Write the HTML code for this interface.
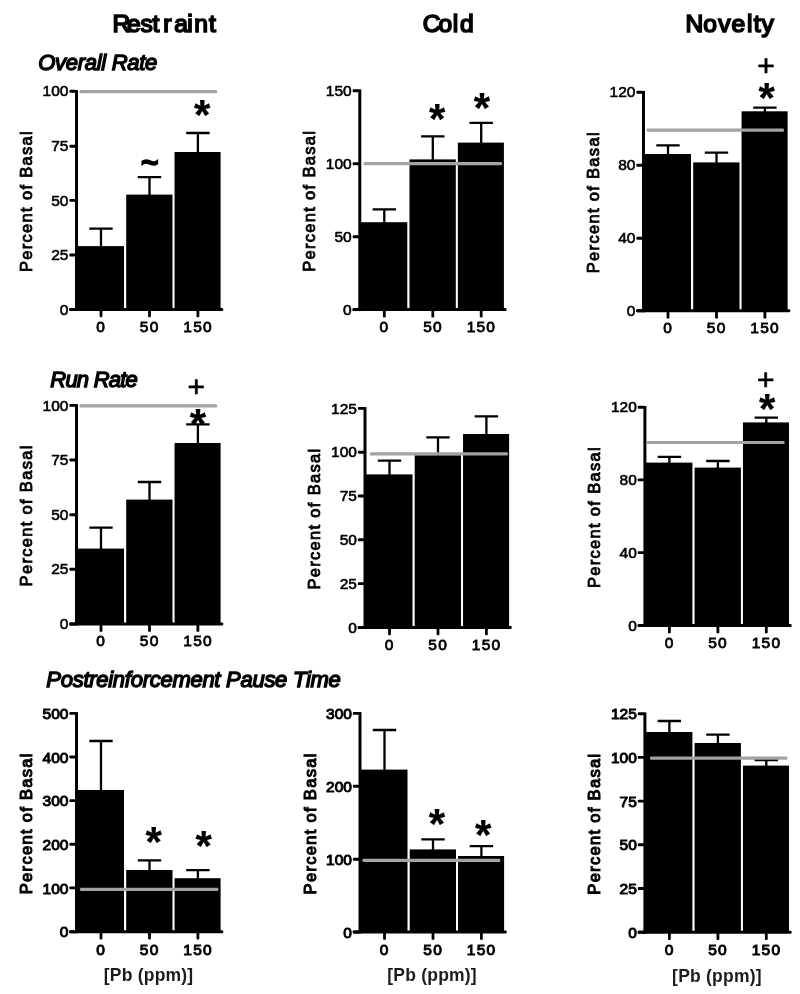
<!DOCTYPE html>
<html lang="en"><head><meta charset="utf-8"><title>Figure</title>
<style>html,body{margin:0;padding:0;background:#fff}body{width:800px;height:994px;overflow:hidden}svg{display:block}text{font-family:'Liberation Sans', sans-serif;fill:#000}</style>
</head><body>
<svg width="800" height="994" viewBox="0 0 800 994">
<rect width="800" height="994" fill="#fff"/>
<text x="112.55 127.05 140.6 152.45 163.15 174.25 187.15 194.3 209" y="32.2" font-size="24.6" stroke="#000" stroke-width="1.7">Restraint</text>
<text x="422.8 438.5 452.8 460.1" y="32.2" font-size="24.6" stroke="#000" stroke-width="1.7">Cold</text>
<text x="685.5 703.3 718.2 731.5 746.9 753.7 761.5" y="32.2" font-size="24.6" stroke="#000" stroke-width="1.7">Novelty</text>
<text x="38.3" y="69.9" font-size="22" font-style="italic" stroke="#000" stroke-width="1.4" textLength="119" lengthAdjust="spacing">Overall Rate</text>
<text x="50.3" y="387.3" font-size="22" font-style="italic" stroke="#000" stroke-width="1.4" textLength="87.5" lengthAdjust="spacing">Run Rate</text>
<text x="46.3" y="687.1" font-size="22" font-style="italic" stroke="#000" stroke-width="1.4" textLength="294.5" lengthAdjust="spacing">Postreinforcement Pause Time</text>
<g>
<rect x="76" y="246.1" width="48" height="63.3"/>
<rect x="126.2" y="194.6" width="46.3" height="114.8"/>
<rect x="174.55" y="152" width="46.05" height="157.4"/>
<path d="M101 247.1V228.7M89.3 228.7H112.7M149.5 195.6V177.2M137.8 177.2H161.2M197.9 153V133M186.2 133H209.6" stroke="#000" stroke-width="2.3" fill="none"/>
<rect x="75" y="90" width="3" height="220.9"/>
<rect x="69.2" y="307.9" width="154" height="3" rx="1"/>
<rect x="69.4" y="89.85" width="6.6" height="2.9" rx="0.9"/>
<text x="68.4" y="96.4" font-size="15.5" text-anchor="end" stroke="#000" stroke-width="0.6">100</text>
<rect x="69.4" y="144.75" width="6.6" height="2.9" rx="0.9"/>
<text x="68.4" y="151.3" font-size="15.5" text-anchor="end" stroke="#000" stroke-width="0.6">75</text>
<rect x="69.4" y="198.95" width="6.6" height="2.9" rx="0.9"/>
<text x="68.4" y="205.5" font-size="15.5" text-anchor="end" stroke="#000" stroke-width="0.6">50</text>
<rect x="69.4" y="253.55" width="6.6" height="2.9" rx="0.9"/>
<text x="68.4" y="260.1" font-size="15.5" text-anchor="end" stroke="#000" stroke-width="0.6">25</text>
<rect x="69.4" y="307.95" width="6.6" height="2.9" rx="0.9"/>
<text x="68.4" y="314.5" font-size="15.5" text-anchor="end" stroke="#000" stroke-width="0.6">0</text>
<rect x="99.6" y="309.4" width="2.8" height="7.8" rx="0.9"/>
<text x="101.2" y="331.6" font-size="15.5" text-anchor="middle" stroke="#000" stroke-width="0.8" letter-spacing="1.2">0</text>
<rect x="148.1" y="309.4" width="2.8" height="7.8" rx="0.9"/>
<text x="149.7" y="331.6" font-size="15.5" text-anchor="middle" stroke="#000" stroke-width="0.8" letter-spacing="1.2">50</text>
<rect x="196.5" y="309.4" width="2.8" height="7.8" rx="0.9"/>
<text x="198.1" y="331.6" font-size="15.5" text-anchor="middle" stroke="#000" stroke-width="0.8" letter-spacing="1.2">150</text>
<rect x="79.5" y="90" width="137.7" height="3.2" rx="1.2" fill="#a2a2a7"/>
<text x="32" y="201.65" font-size="16.5" text-anchor="middle" stroke="#000" stroke-width="0.85" textLength="140.8" lengthAdjust="spacing" transform="rotate(-90 32 201.65)">Percent of Basal</text>
<text x="141" y="173.4" font-size="30" font-weight="bold" stroke="#000" stroke-width="1.5">~</text>
<text x="194" y="128.5" font-size="42" font-weight="bold" stroke="#000" stroke-width="0.2">*</text>
</g>
<g>
<rect x="359.3" y="222.2" width="48" height="87.4"/>
<rect x="409.5" y="159.4" width="46.3" height="150.2"/>
<rect x="457.85" y="142.6" width="46.05" height="167"/>
<path d="M384.3 223.2V209.4M372.6 209.4H396M432.8 160.4V136.4M421.1 136.4H444.5M481.2 143.6V122.8M469.5 122.8H492.9" stroke="#000" stroke-width="2.3" fill="none"/>
<rect x="358.3" y="89.4" width="3" height="221.7"/>
<rect x="352.5" y="308.1" width="154" height="3" rx="1"/>
<rect x="352.7" y="89.25" width="6.6" height="2.9" rx="0.9"/>
<text x="351.7" y="95.8" font-size="15.5" text-anchor="end" stroke="#000" stroke-width="0.6">150</text>
<rect x="352.7" y="162.25" width="6.6" height="2.9" rx="0.9"/>
<text x="351.7" y="168.8" font-size="15.5" text-anchor="end" stroke="#000" stroke-width="0.6">100</text>
<rect x="352.7" y="235.35" width="6.6" height="2.9" rx="0.9"/>
<text x="351.7" y="241.9" font-size="15.5" text-anchor="end" stroke="#000" stroke-width="0.6">50</text>
<rect x="352.7" y="308.15" width="6.6" height="2.9" rx="0.9"/>
<text x="351.7" y="314.7" font-size="15.5" text-anchor="end" stroke="#000" stroke-width="0.6">0</text>
<rect x="382.9" y="309.6" width="2.8" height="7.8" rx="0.9"/>
<text x="384.5" y="331.8" font-size="15.5" text-anchor="middle" stroke="#000" stroke-width="0.8" letter-spacing="1.2">0</text>
<rect x="431.4" y="309.6" width="2.8" height="7.8" rx="0.9"/>
<text x="433" y="331.8" font-size="15.5" text-anchor="middle" stroke="#000" stroke-width="0.8" letter-spacing="1.2">50</text>
<rect x="479.8" y="309.6" width="2.8" height="7.8" rx="0.9"/>
<text x="481.4" y="331.8" font-size="15.5" text-anchor="middle" stroke="#000" stroke-width="0.8" letter-spacing="1.2">150</text>
<rect x="363.6" y="162.1" width="138.4" height="3.2" rx="1.2" fill="#a2a2a7"/>
<text x="315.3" y="201.45" font-size="16.5" text-anchor="middle" stroke="#000" stroke-width="0.85" textLength="140.8" lengthAdjust="spacing" transform="rotate(-90 315.3 201.45)">Percent of Basal</text>
<text x="429" y="132.5" font-size="42" font-weight="bold" stroke="#000" stroke-width="0.2">*</text>
<text x="473.7" y="121.7" font-size="42" font-weight="bold" stroke="#000" stroke-width="0.2">*</text>
</g>
<g>
<rect x="643" y="154" width="48" height="156.8"/>
<rect x="693.2" y="162.4" width="46.3" height="148.4"/>
<rect x="741.55" y="111.3" width="46.05" height="199.5"/>
<path d="M668 155V145.4M656.3 145.4H679.7M716.5 163.4V152.6M704.8 152.6H728.2M764.9 112.3V107.6M753.2 107.6H776.6" stroke="#000" stroke-width="2.3" fill="none"/>
<rect x="642" y="90.9" width="3" height="221.4"/>
<rect x="636.2" y="309.3" width="154" height="3" rx="1"/>
<rect x="636.4" y="90.75" width="6.6" height="2.9" rx="0.9"/>
<text x="635.4" y="97.3" font-size="15.5" text-anchor="end" stroke="#000" stroke-width="0.6">120</text>
<rect x="636.4" y="163.85" width="6.6" height="2.9" rx="0.9"/>
<text x="635.4" y="170.4" font-size="15.5" text-anchor="end" stroke="#000" stroke-width="0.6">80</text>
<rect x="636.4" y="236.85" width="6.6" height="2.9" rx="0.9"/>
<text x="635.4" y="243.4" font-size="15.5" text-anchor="end" stroke="#000" stroke-width="0.6">40</text>
<rect x="636.4" y="309.35" width="6.6" height="2.9" rx="0.9"/>
<text x="635.4" y="315.9" font-size="15.5" text-anchor="end" stroke="#000" stroke-width="0.6">0</text>
<rect x="666.6" y="310.8" width="2.8" height="7.8" rx="0.9"/>
<text x="668.2" y="333" font-size="15.5" text-anchor="middle" stroke="#000" stroke-width="0.8" letter-spacing="1.2">0</text>
<rect x="715.1" y="310.8" width="2.8" height="7.8" rx="0.9"/>
<text x="716.7" y="333" font-size="15.5" text-anchor="middle" stroke="#000" stroke-width="0.8" letter-spacing="1.2">50</text>
<rect x="763.5" y="310.8" width="2.8" height="7.8" rx="0.9"/>
<text x="765.1" y="333" font-size="15.5" text-anchor="middle" stroke="#000" stroke-width="0.8" letter-spacing="1.2">150</text>
<rect x="646.6" y="128.6" width="137.4" height="3.2" rx="1.2" fill="#a2a2a7"/>
<text x="599" y="202.8" font-size="16.5" text-anchor="middle" stroke="#000" stroke-width="0.85" textLength="140.8" lengthAdjust="spacing" transform="rotate(-90 599 202.8)">Percent of Basal</text>
<text x="758.5" y="112.25" font-size="42" font-weight="bold" stroke="#000" stroke-width="0.2">*</text>
<text x="757.25" y="75.9" font-size="30" stroke="#000" stroke-width="0.6">+</text>
</g>
<g>
<rect x="76" y="548.6" width="48" height="75.4"/>
<rect x="126.2" y="499.6" width="46.3" height="124.4"/>
<rect x="174.55" y="443" width="46.05" height="181"/>
<path d="M101 549.6V527.6M89.3 527.6H112.7M149.5 500.6V482M137.8 482H161.2M197.9 444V424.4M186.2 424.4H209.6" stroke="#000" stroke-width="2.3" fill="none"/>
<rect x="75" y="404.1" width="3" height="221.4"/>
<rect x="69.2" y="622.5" width="154" height="3" rx="1"/>
<rect x="69.4" y="403.95" width="6.6" height="2.9" rx="0.9"/>
<text x="68.4" y="410.5" font-size="15.5" text-anchor="end" stroke="#000" stroke-width="0.6">100</text>
<rect x="69.4" y="458.55" width="6.6" height="2.9" rx="0.9"/>
<text x="68.4" y="465.1" font-size="15.5" text-anchor="end" stroke="#000" stroke-width="0.6">75</text>
<rect x="69.4" y="513.25" width="6.6" height="2.9" rx="0.9"/>
<text x="68.4" y="519.8" font-size="15.5" text-anchor="end" stroke="#000" stroke-width="0.6">50</text>
<rect x="69.4" y="567.85" width="6.6" height="2.9" rx="0.9"/>
<text x="68.4" y="574.4" font-size="15.5" text-anchor="end" stroke="#000" stroke-width="0.6">25</text>
<rect x="69.4" y="622.55" width="6.6" height="2.9" rx="0.9"/>
<text x="68.4" y="629.1" font-size="15.5" text-anchor="end" stroke="#000" stroke-width="0.6">0</text>
<rect x="99.6" y="624" width="2.8" height="7.8" rx="0.9"/>
<text x="101.2" y="646.4" font-size="15.5" text-anchor="middle" stroke="#000" stroke-width="0.8" letter-spacing="1.2">0</text>
<rect x="148.1" y="624" width="2.8" height="7.8" rx="0.9"/>
<text x="149.7" y="646.4" font-size="15.5" text-anchor="middle" stroke="#000" stroke-width="0.8" letter-spacing="1.2">50</text>
<rect x="196.5" y="624" width="2.8" height="7.8" rx="0.9"/>
<text x="198.1" y="646.4" font-size="15.5" text-anchor="middle" stroke="#000" stroke-width="0.8" letter-spacing="1.2">150</text>
<rect x="79.5" y="404.2" width="137.7" height="3.2" rx="1.2" fill="#a2a2a7"/>
<text x="32" y="516" font-size="16.5" text-anchor="middle" stroke="#000" stroke-width="0.85" textLength="140.8" lengthAdjust="spacing" transform="rotate(-90 32 516)">Percent of Basal</text>
<text x="187.5" y="397" font-size="30" stroke="#000" stroke-width="0.6">+</text>
<text x="189.8" y="438" font-size="42" font-weight="bold" stroke="#000" stroke-width="0.2">*</text>
</g>
<g>
<rect x="364.5" y="474.4" width="48" height="153"/>
<rect x="414.7" y="455.2" width="46.3" height="172.2"/>
<rect x="463.05" y="434" width="46.05" height="193.4"/>
<path d="M389.5 475.4V460.6M377.8 460.6H401.2M438 456.2V437.4M426.3 437.4H449.7M486.4 435V416.4M474.7 416.4H498.1" stroke="#000" stroke-width="2.3" fill="none"/>
<rect x="363.5" y="407.1" width="3" height="221.8"/>
<rect x="357.7" y="625.9" width="154" height="3" rx="1"/>
<rect x="357.9" y="406.95" width="6.6" height="2.9" rx="0.9"/>
<text x="356.9" y="413.5" font-size="15.5" text-anchor="end" stroke="#000" stroke-width="0.6">125</text>
<rect x="357.9" y="450.75" width="6.6" height="2.9" rx="0.9"/>
<text x="356.9" y="457.3" font-size="15.5" text-anchor="end" stroke="#000" stroke-width="0.6">100</text>
<rect x="357.9" y="494.55" width="6.6" height="2.9" rx="0.9"/>
<text x="356.9" y="501.1" font-size="15.5" text-anchor="end" stroke="#000" stroke-width="0.6">75</text>
<rect x="357.9" y="538.35" width="6.6" height="2.9" rx="0.9"/>
<text x="356.9" y="544.9" font-size="15.5" text-anchor="end" stroke="#000" stroke-width="0.6">50</text>
<rect x="357.9" y="582.15" width="6.6" height="2.9" rx="0.9"/>
<text x="356.9" y="588.7" font-size="15.5" text-anchor="end" stroke="#000" stroke-width="0.6">25</text>
<rect x="357.9" y="625.95" width="6.6" height="2.9" rx="0.9"/>
<text x="356.9" y="632.5" font-size="15.5" text-anchor="end" stroke="#000" stroke-width="0.6">0</text>
<rect x="388.1" y="627.4" width="2.8" height="7.8" rx="0.9"/>
<text x="389.7" y="649.8" font-size="15.5" text-anchor="middle" stroke="#000" stroke-width="0.8" letter-spacing="1.2">0</text>
<rect x="436.6" y="627.4" width="2.8" height="7.8" rx="0.9"/>
<text x="438.2" y="649.8" font-size="15.5" text-anchor="middle" stroke="#000" stroke-width="0.8" letter-spacing="1.2">50</text>
<rect x="485" y="627.4" width="2.8" height="7.8" rx="0.9"/>
<text x="486.6" y="649.8" font-size="15.5" text-anchor="middle" stroke="#000" stroke-width="0.8" letter-spacing="1.2">150</text>
<rect x="370" y="452.2" width="138" height="3.2" rx="1.2" fill="#a2a2a7"/>
<text x="320.5" y="519.2" font-size="16.5" text-anchor="middle" stroke="#000" stroke-width="0.85" textLength="140.8" lengthAdjust="spacing" transform="rotate(-90 320.5 519.2)">Percent of Basal</text>
</g>
<g>
<rect x="644.4" y="462.6" width="48" height="162.9"/>
<rect x="694.6" y="467.6" width="46.3" height="157.9"/>
<rect x="742.95" y="422.4" width="46.05" height="203.1"/>
<path d="M669.4 463.6V456.8M657.7 456.8H681.1M717.9 468.6V461M706.2 461H729.6M766.3 423.4V417.6M754.6 417.6H778" stroke="#000" stroke-width="2.3" fill="none"/>
<rect x="643.4" y="406" width="3" height="221"/>
<rect x="637.6" y="624" width="154" height="3" rx="1"/>
<rect x="637.8" y="405.85" width="6.6" height="2.9" rx="0.9"/>
<text x="636.8" y="412.4" font-size="15.5" text-anchor="end" stroke="#000" stroke-width="0.6">120</text>
<rect x="637.8" y="478.45" width="6.6" height="2.9" rx="0.9"/>
<text x="636.8" y="485" font-size="15.5" text-anchor="end" stroke="#000" stroke-width="0.6">80</text>
<rect x="637.8" y="551.15" width="6.6" height="2.9" rx="0.9"/>
<text x="636.8" y="557.7" font-size="15.5" text-anchor="end" stroke="#000" stroke-width="0.6">40</text>
<rect x="637.8" y="624.05" width="6.6" height="2.9" rx="0.9"/>
<text x="636.8" y="630.6" font-size="15.5" text-anchor="end" stroke="#000" stroke-width="0.6">0</text>
<rect x="668" y="625.5" width="2.8" height="7.8" rx="0.9"/>
<text x="669.6" y="647.9" font-size="15.5" text-anchor="middle" stroke="#000" stroke-width="0.8" letter-spacing="1.2">0</text>
<rect x="716.5" y="625.5" width="2.8" height="7.8" rx="0.9"/>
<text x="718.1" y="647.9" font-size="15.5" text-anchor="middle" stroke="#000" stroke-width="0.8" letter-spacing="1.2">50</text>
<rect x="764.9" y="625.5" width="2.8" height="7.8" rx="0.9"/>
<text x="766.5" y="647.9" font-size="15.5" text-anchor="middle" stroke="#000" stroke-width="0.8" letter-spacing="1.2">150</text>
<rect x="646.6" y="440.9" width="138" height="3.2" rx="1.2" fill="#a2a2a7"/>
<text x="600.4" y="517.7" font-size="16.5" text-anchor="middle" stroke="#000" stroke-width="0.85" textLength="140.8" lengthAdjust="spacing" transform="rotate(-90 600.4 517.7)">Percent of Basal</text>
<text x="757" y="390.4" font-size="30" stroke="#000" stroke-width="0.6">+</text>
<text x="759" y="423" font-size="42" font-weight="bold" stroke="#000" stroke-width="0.2">*</text>
</g>
<g>
<rect x="76" y="790" width="48" height="141.7"/>
<rect x="126.2" y="870" width="46.3" height="61.7"/>
<rect x="174.55" y="878.2" width="46.05" height="53.5"/>
<path d="M101 791V741M89.3 741H112.7M149.5 871V860.4M137.8 860.4H161.2M197.9 879.2V870.2M186.2 870.2H209.6" stroke="#000" stroke-width="2.3" fill="none"/>
<rect x="75" y="712.1" width="3" height="221.1"/>
<rect x="69.2" y="930.2" width="154" height="3" rx="1"/>
<rect x="69.4" y="711.95" width="6.6" height="2.9" rx="0.9"/>
<text x="68.4" y="719" font-size="15.5" text-anchor="end" stroke="#000" stroke-width="1.0">500</text>
<rect x="69.4" y="755.55" width="6.6" height="2.9" rx="0.9"/>
<text x="68.4" y="762.6" font-size="15.5" text-anchor="end" stroke="#000" stroke-width="1.0">400</text>
<rect x="69.4" y="799.15" width="6.6" height="2.9" rx="0.9"/>
<text x="68.4" y="806.2" font-size="15.5" text-anchor="end" stroke="#000" stroke-width="1.0">300</text>
<rect x="69.4" y="842.85" width="6.6" height="2.9" rx="0.9"/>
<text x="68.4" y="849.9" font-size="15.5" text-anchor="end" stroke="#000" stroke-width="1.0">200</text>
<rect x="69.4" y="886.45" width="6.6" height="2.9" rx="0.9"/>
<text x="68.4" y="893.5" font-size="15.5" text-anchor="end" stroke="#000" stroke-width="1.0">100</text>
<rect x="69.4" y="930.25" width="6.6" height="2.9" rx="0.9"/>
<text x="68.4" y="937.3" font-size="15.5" text-anchor="end" stroke="#000" stroke-width="1.0">0</text>
<rect x="99.6" y="931.7" width="2.8" height="7.8" rx="0.9"/>
<text x="101.2" y="954.7" font-size="15.5" text-anchor="middle" stroke="#000" stroke-width="1.0" letter-spacing="1.2">0</text>
<rect x="148.1" y="931.7" width="2.8" height="7.8" rx="0.9"/>
<text x="149.7" y="954.7" font-size="15.5" text-anchor="middle" stroke="#000" stroke-width="1.0" letter-spacing="1.2">50</text>
<rect x="196.5" y="931.7" width="2.8" height="7.8" rx="0.9"/>
<text x="198.1" y="954.7" font-size="15.5" text-anchor="middle" stroke="#000" stroke-width="1.0" letter-spacing="1.2">150</text>
<rect x="80" y="887.7" width="138.4" height="3.2" rx="1.2" fill="#a2a2a7"/>
<text x="32" y="823.85" font-size="16.5" text-anchor="middle" stroke="#000" stroke-width="1.05" textLength="140.8" lengthAdjust="spacing" transform="rotate(-90 32 823.85)">Percent of Basal</text>
<text x="145.6" y="856.2" font-size="42" font-weight="bold" stroke="#000" stroke-width="0.2">*</text>
<text x="195.6" y="859.7" font-size="42" font-weight="bold" stroke="#000" stroke-width="0.2">*</text>
<text x="103.7" y="981.1" font-size="17.5" font-weight="bold" textLength="89.5" lengthAdjust="spacing" style="fill:#1c1c1c">[Pb (ppm)]</text>
</g>
<g>
<rect x="359.5" y="769.6" width="48" height="162.4"/>
<rect x="409.7" y="849.4" width="46.3" height="82.6"/>
<rect x="458.05" y="856" width="46.05" height="76"/>
<path d="M384.5 770.6V730M372.8 730H396.2M433 850.4V839.4M421.3 839.4H444.7M481.4 857V846.2M469.7 846.2H493.1" stroke="#000" stroke-width="2.3" fill="none"/>
<rect x="358.5" y="712.1" width="3" height="221.4"/>
<rect x="352.7" y="930.5" width="154" height="3" rx="1"/>
<rect x="352.9" y="711.95" width="6.6" height="2.9" rx="0.9"/>
<text x="351.9" y="719" font-size="15.5" text-anchor="end" stroke="#000" stroke-width="1.0">300</text>
<rect x="352.9" y="784.85" width="6.6" height="2.9" rx="0.9"/>
<text x="351.9" y="791.9" font-size="15.5" text-anchor="end" stroke="#000" stroke-width="1.0">200</text>
<rect x="352.9" y="857.75" width="6.6" height="2.9" rx="0.9"/>
<text x="351.9" y="864.8" font-size="15.5" text-anchor="end" stroke="#000" stroke-width="1.0">100</text>
<rect x="352.9" y="930.55" width="6.6" height="2.9" rx="0.9"/>
<text x="351.9" y="937.6" font-size="15.5" text-anchor="end" stroke="#000" stroke-width="1.0">0</text>
<rect x="383.1" y="932" width="2.8" height="7.8" rx="0.9"/>
<text x="384.7" y="955" font-size="15.5" text-anchor="middle" stroke="#000" stroke-width="1.0" letter-spacing="1.2">0</text>
<rect x="431.6" y="932" width="2.8" height="7.8" rx="0.9"/>
<text x="433.2" y="955" font-size="15.5" text-anchor="middle" stroke="#000" stroke-width="1.0" letter-spacing="1.2">50</text>
<rect x="480" y="932" width="2.8" height="7.8" rx="0.9"/>
<text x="481.6" y="955" font-size="15.5" text-anchor="middle" stroke="#000" stroke-width="1.0" letter-spacing="1.2">150</text>
<rect x="362.4" y="858.8" width="138" height="3.2" rx="1.2" fill="#a2a2a7"/>
<text x="315.5" y="824" font-size="16.5" text-anchor="middle" stroke="#000" stroke-width="1.05" textLength="140.8" lengthAdjust="spacing" transform="rotate(-90 315.5 824)">Percent of Basal</text>
<text x="428.7" y="838.1" font-size="42" font-weight="bold" stroke="#000" stroke-width="0.2">*</text>
<text x="475" y="848.5" font-size="42" font-weight="bold" stroke="#000" stroke-width="0.2">*</text>
<text x="387.2" y="981.4" font-size="17.5" font-weight="bold" textLength="89.5" lengthAdjust="spacing" style="fill:#1c1c1c">[Pb (ppm)]</text>
</g>
<g>
<rect x="644.4" y="732" width="48" height="200.2"/>
<rect x="694.6" y="743" width="46.3" height="189.2"/>
<rect x="742.95" y="765.6" width="46.05" height="166.6"/>
<path d="M669.4 733V721M657.7 721H681.1M717.9 744V734.6M706.2 734.6H729.6M766.3 766.6V760M754.6 760H778" stroke="#000" stroke-width="2.3" fill="none"/>
<rect x="643.4" y="712.4" width="3" height="221.3"/>
<rect x="637.6" y="930.7" width="154" height="3" rx="1"/>
<rect x="637.8" y="712.25" width="6.6" height="2.9" rx="0.9"/>
<text x="636.8" y="719.3" font-size="15.5" text-anchor="end" stroke="#000" stroke-width="1.0">125</text>
<rect x="637.8" y="755.95" width="6.6" height="2.9" rx="0.9"/>
<text x="636.8" y="763" font-size="15.5" text-anchor="end" stroke="#000" stroke-width="1.0">100</text>
<rect x="637.8" y="799.65" width="6.6" height="2.9" rx="0.9"/>
<text x="636.8" y="806.7" font-size="15.5" text-anchor="end" stroke="#000" stroke-width="1.0">75</text>
<rect x="637.8" y="843.35" width="6.6" height="2.9" rx="0.9"/>
<text x="636.8" y="850.4" font-size="15.5" text-anchor="end" stroke="#000" stroke-width="1.0">50</text>
<rect x="637.8" y="887.05" width="6.6" height="2.9" rx="0.9"/>
<text x="636.8" y="894.1" font-size="15.5" text-anchor="end" stroke="#000" stroke-width="1.0">25</text>
<rect x="637.8" y="930.75" width="6.6" height="2.9" rx="0.9"/>
<text x="636.8" y="937.8" font-size="15.5" text-anchor="end" stroke="#000" stroke-width="1.0">0</text>
<rect x="668" y="932.2" width="2.8" height="7.8" rx="0.9"/>
<text x="669.6" y="955.2" font-size="15.5" text-anchor="middle" stroke="#000" stroke-width="1.0" letter-spacing="1.2">0</text>
<rect x="716.5" y="932.2" width="2.8" height="7.8" rx="0.9"/>
<text x="718.1" y="955.2" font-size="15.5" text-anchor="middle" stroke="#000" stroke-width="1.0" letter-spacing="1.2">50</text>
<rect x="764.9" y="932.2" width="2.8" height="7.8" rx="0.9"/>
<text x="766.5" y="955.2" font-size="15.5" text-anchor="middle" stroke="#000" stroke-width="1.0" letter-spacing="1.2">150</text>
<rect x="650" y="756.6" width="137.4" height="3.2" rx="1.2" fill="#a2a2a7"/>
<text x="600.4" y="824.25" font-size="16.5" text-anchor="middle" stroke="#000" stroke-width="1.05" textLength="140.8" lengthAdjust="spacing" transform="rotate(-90 600.4 824.25)">Percent of Basal</text>
<text x="672.1" y="981.6" font-size="17.5" font-weight="bold" textLength="89.5" lengthAdjust="spacing" style="fill:#1c1c1c">[Pb (ppm)]</text>
</g>
</svg></body></html>
